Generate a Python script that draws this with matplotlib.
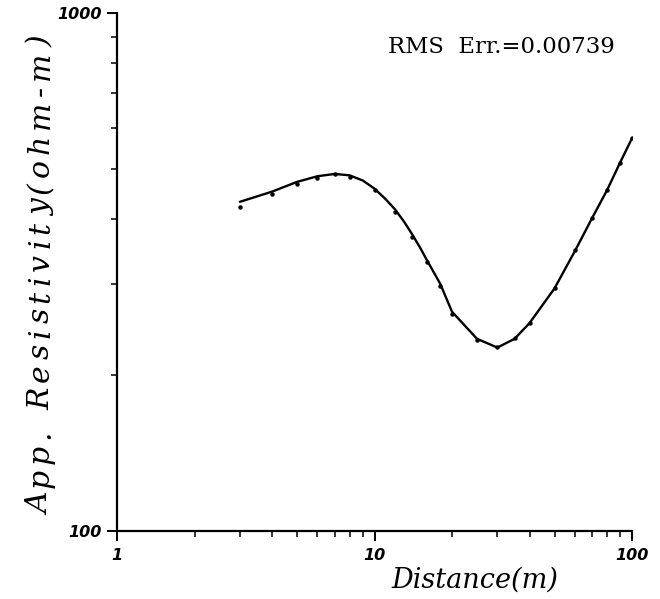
import matplotlib
matplotlib.use("Agg")
import matplotlib.pyplot as plt
from matplotlib.ticker import FixedLocator, FixedFormatter, LogLocator, NullFormatter
from matplotlib.font_manager import FontProperties

# Electrode spacing (m) and observed apparent resistivity (ohm-m)
spacing_obs = [3, 4, 5, 6, 7, 8, 10, 12, 14, 16, 18, 20, 25, 30, 35, 40, 50, 60, 70, 80, 90, 100]
rho_obs = [422, 447, 468, 481, 488, 482, 455, 413, 370, 331, 297, 262, 234, 227, 236, 252, 294, 348, 402, 456, 514, 573]

# Model response curve
spacing_fit = [3, 4, 5, 6, 7, 8, 9, 10, 11, 12, 13, 14, 15, 16, 18, 20, 25, 30, 35, 40, 50, 60, 70, 80, 90, 100]
rho_fit = [432, 452, 472, 484, 489, 486, 475, 458, 438, 418, 396, 374, 353, 333, 300, 265, 235, 226, 235, 252, 294, 347, 402, 455, 515, 573]

x_ticks = [1, 10, 100]
x_ticklabels = ["1", "10", "100"]
y_ticks = [100, 1000]
y_ticklabels = ["100", "1000"]

x_title = "Distance(m)"
y_title = "App. Resistivity(ohm-m)"
rms_text = "RMS  Err.=0.00739"

fig = plt.figure(figsize=(6.6, 5.99), dpi=100)
ax = fig.add_axes([0.1773, 0.1135, 0.7803, 0.8648])

ax.plot(spacing_fit, rho_fit, color="black", lw=1.7, solid_capstyle="round")
ax.plot(spacing_obs, rho_obs, linestyle="none", marker="o", ms=2.2, color="black")

ax.set_xscale("log")
ax.set_yscale("log")
ax.set_xlim(1, 100)
ax.set_ylim(100, 1000)

for side in ("top", "right"):
    ax.spines[side].set_visible(False)
for side in ("left", "bottom"):
    ax.spines[side].set_linewidth(1.6)

ax.xaxis.set_major_locator(FixedLocator(x_ticks))
ax.xaxis.set_major_formatter(FixedFormatter(x_ticklabels))
ax.yaxis.set_major_locator(FixedLocator(y_ticks))
ax.yaxis.set_major_formatter(FixedFormatter(y_ticklabels))
ax.xaxis.set_minor_locator(LogLocator(base=10, subs=range(2, 10)))
ax.yaxis.set_minor_locator(LogLocator(base=10, subs=range(2, 10)))
ax.xaxis.set_minor_formatter(NullFormatter())
ax.yaxis.set_minor_formatter(NullFormatter())
ax.tick_params(which="major", direction="out", length=7, width=1.4, pad=4)
ax.tick_params(which="minor", direction="out", length=4, width=1.1)
ax.tick_params(axis="x", which="major", pad=5)
for lab in ax.get_xticklabels() + ax.get_yticklabels():
    lab.set_fontfamily("DejaVu Sans")
    lab.set_fontstyle("italic")
    lab.set_fontweight("semibold")
    lab.set_fontsize(11.5)

x_title_font = FontProperties(family="DejaVu Serif", style="italic", size=19.5)
y_title_font = FontProperties(family="DejaVu Serif", style="italic", size=21.5)

# x title, set right of centre
fig.text(475 / 660, 1 - 580 / 599, x_title, fontproperties=x_title_font,
         ha="center", va="center")

# y title, letter-spaced and rotated, built glyph by glyph along a common baseline
renderer = fig.canvas.get_renderer()
def advance(s):
    if not s:
        return 0.0
    w, _, _ = renderer.get_text_width_height_descent(s.replace(" ", "\u00a0"), y_title_font, ismath=False)
    return w
span = 480.0
extra = (span - advance(y_title)) / (len(y_title) - 1)
baseline_x, cy = 49, 599 - 275
start = cy - span / 2
for i, ch in enumerate(y_title):
    if ch == " ":
        continue
    pos = start + advance(y_title[:i]) + extra * i
    fig.text(baseline_x / 660, pos / 599, ch, fontproperties=y_title_font, rotation=90,
             ha="left", va="baseline", rotation_mode="anchor")

ax.text((388 - 117) / 515, (531 - 47) / 518, rms_text, transform=ax.transAxes,
        family="DejaVu Serif", size=16.4, ha="left", va="center")

fig.savefig("out.png", dpi=100)
